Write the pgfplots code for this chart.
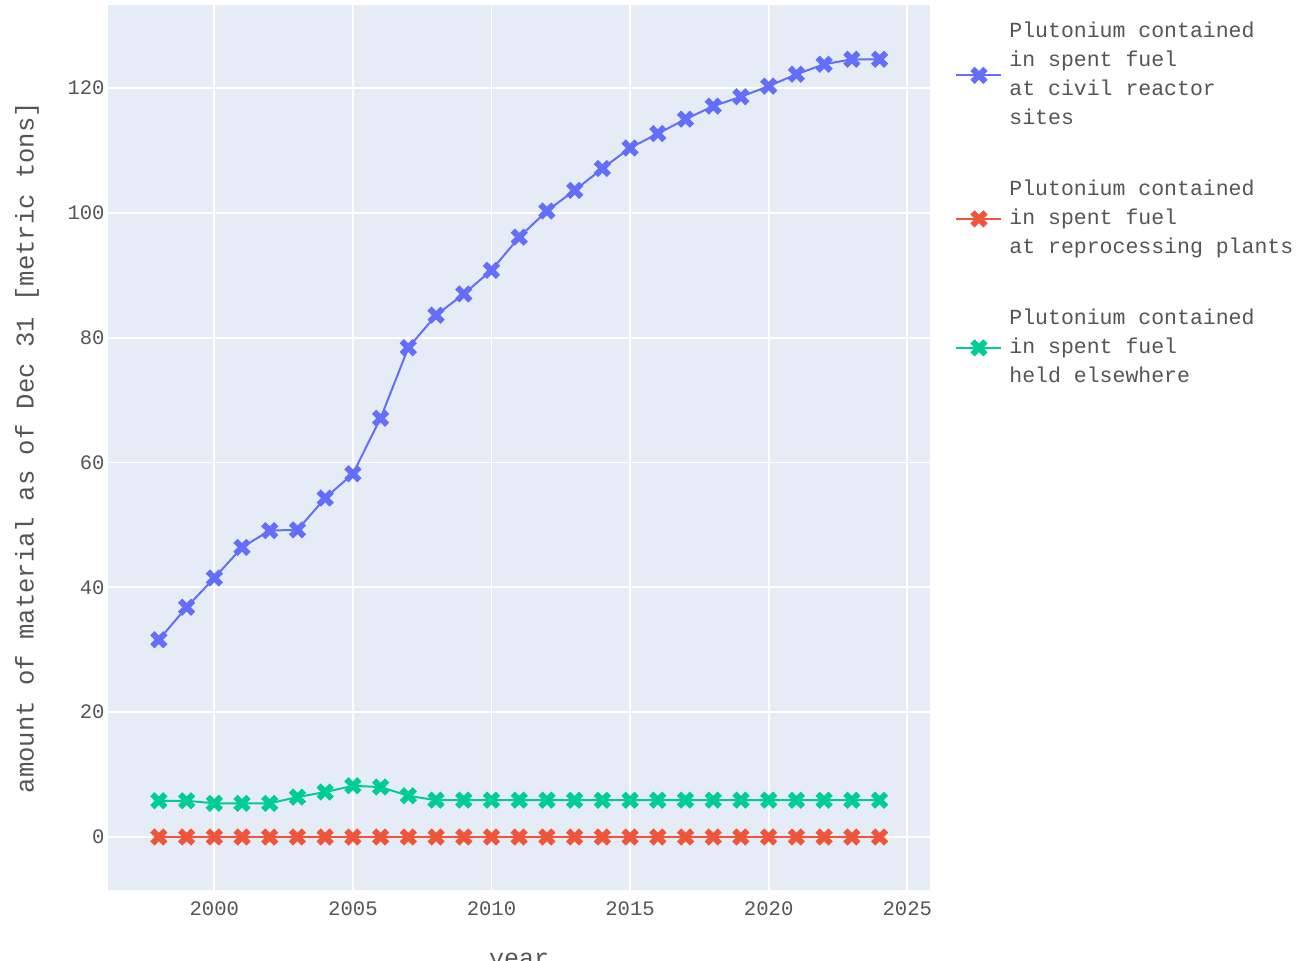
\documentclass[border=0pt]{standalone}
\usepackage{pgfplots}
\pgfplotsset{compat=1.18}
\usepackage{fontspec}
\setmainfont{Liberation Mono}
\definecolor{bgc}{HTML}{E5ECF6}
\definecolor{cblue}{HTML}{636EFA}
\definecolor{cred}{HTML}{EF553B}
\definecolor{cgreen}{HTML}{00CC96}
\definecolor{txt}{HTML}{555555}

\pgfplotstableread{
year civil repro elsewhere
1998 31.6 0 5.8
1999 36.8 0 5.8
2000 41.5 0 5.4
2001 46.4 0 5.4
2002 49.1 0 5.4
2003 49.2 0 6.4
2004 54.3 0 7.2
2005 58.2 0 8.2
2006 67.1 0 8.0
2007 78.4 0 6.6
2008 83.6 0 5.9
2009 87.0 0 5.9
2010 90.8 0 5.9
2011 96.1 0 5.9
2012 100.3 0 5.9
2013 103.6 0 5.9
2014 107.1 0 5.9
2015 110.4 0 5.9
2016 112.7 0 5.9
2017 115.0 0 5.9
2018 117.1 0 5.9
2019 118.6 0 5.9
2020 120.3 0 5.9
2021 122.2 0 5.9
2022 123.8 0 5.9
2023 124.6 0 5.9
2024 124.6 0 5.9
}\datatable

\begin{document}
\begin{tikzpicture}
\begin{axis}[
  name=ax,
  scale only axis,
  width=411pt, height=442.5pt,
  xmin=1996.165, xmax=2025.82,
  ymin=-8.49, ymax=133.3,
  xtick={2000,2005,...,2025},
  ytick={0,20,...,120},
  axis background/.style={fill=bgc},
  axis line style={draw=none},
  major tick length=0pt,
  grid=major,
  major grid style={white, line width=0.9pt},
  /pgf/number format/assume math mode=true,
  /pgf/number format/1000 sep={},
  ticklabel style={font=\fontsize{10.3}{12}\selectfont, text=txt},
  xticklabel style={yshift=-2.5pt},
  yticklabel style={inner sep=1.5pt},
  xlabel={year},
  xlabel style={at={(axis description cs:0.5,0)}, anchor=base, yshift=-38.5pt, font=\fontsize{12.5}{14}\selectfont, text=txt},
  ylabel={amount of material as of Dec 31 [metric tons]},
  ylabel style={at={(axis description cs:0,0.5)}, anchor=center, yshift=40.5pt, font=\fontsize{12.8}{14}\selectfont, text=txt},
  legend style={at={(1,1)}, anchor=north west, xshift=12.5pt, yshift=-4pt,
    draw=none, fill=none, inner sep=0pt, row sep=17pt, column sep=0pt,
    font=\fontsize{10.75}{14.5}\selectfont, text=txt,
    nodes={inner xsep=3.5pt, inner ysep=2pt, text depth=}},
  legend cell align=left,
  legend image code/.code={\draw[#1, mark repeat=2, mark phase=2] plot coordinates {(0pt,0pt) (11.25pt,0pt) (22.5pt,0pt)};},
  every axis plot/.append style={line width=1pt, mark=x, mark size=4.6pt,
    mark options={solid, line width=3pt}},
]
\addplot[color=cblue] table[x=year, y=civil] {\datatable};
\addlegendentry{\begin{tabular}{@{}l@{}}Plutonium contained\\in spent fuel\\at civil reactor\\sites\end{tabular}}
\addplot[color=cred] table[x=year, y=repro] {\datatable};
\addlegendentry{\begin{tabular}{@{}l@{}}Plutonium contained\\in spent fuel\\at reprocessing plants\end{tabular}}
\addplot[color=cgreen] table[x=year, y=elsewhere] {\datatable};
\addlegendentry{\begin{tabular}{@{}l@{}}Plutonium contained\\in spent fuel\\held elsewhere\end{tabular}}
\end{axis}
\pgfresetboundingbox
\useasboundingbox ([shift={(-54pt,-35.5pt)}]ax.south west) rectangle ([shift={(184.5pt,2.5pt)}]ax.north east);
\end{tikzpicture}
\end{document}
